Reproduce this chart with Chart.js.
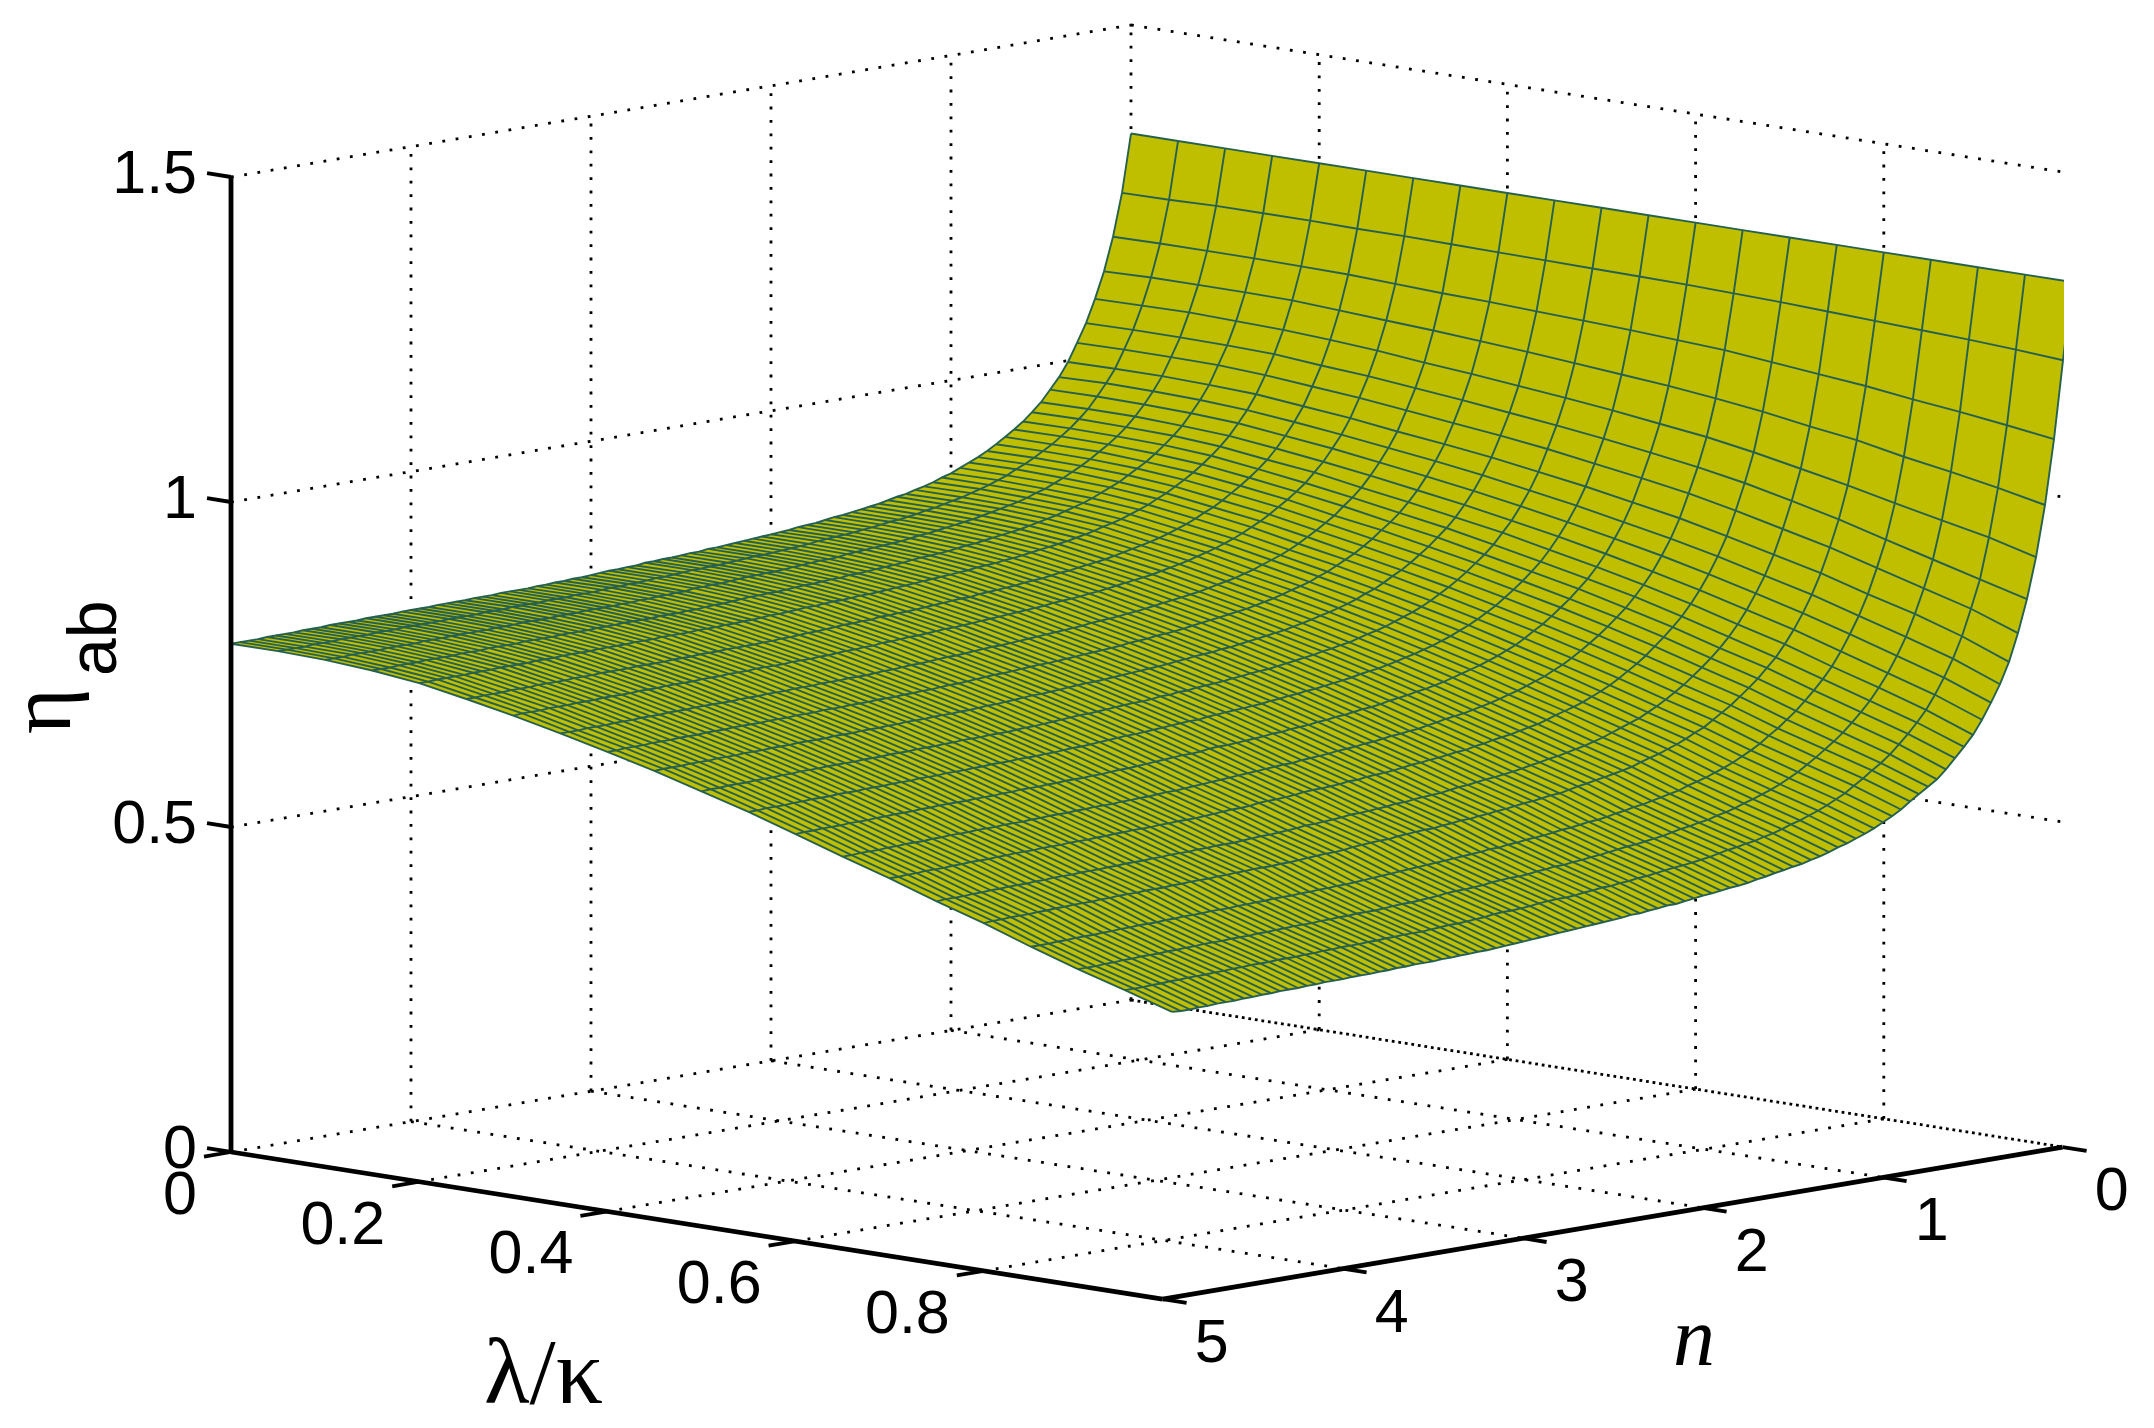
<!DOCTYPE html>
<html>
<head>
<meta charset="utf-8">
<title>eta_ab</title>
<script src="https://cdn.jsdelivr.net/npm/chart.js@4"></script>
<style>
  html, body { margin: 0; padding: 0; background: #fff; }
  canvas { display: block; }
</style>
</head>
<body>
<canvas id="grafico" width="2154" height="1428"></canvas>
<script>
const lambdaValues = [0, 0.05, 0.1, 0.15, 0.2, 0.25, 0.3, 0.35, 0.4, 0.45, 0.5, 0.55, 0.6, 0.65, 0.7, 0.75, 0.8, 0.85, 0.9, 0.95, 1];
const nValues = [
  0, 0.05, 0.1, 0.15, 0.2, 0.25, 0.3, 0.35, 0.4, 0.45, 0.5, 0.55, 0.6, 0.65, 0.7, 0.75, 0.8, 0.85, 0.9, 0.95,
  1, 1.05, 1.1, 1.15, 1.2, 1.25, 1.3, 1.35, 1.4, 1.45, 1.5, 1.55, 1.6, 1.65, 1.7, 1.75, 1.8, 1.85, 1.9, 1.95,
  2, 2.05, 2.1, 2.15, 2.2, 2.25, 2.3, 2.35, 2.4, 2.45, 2.5, 2.55, 2.6, 2.65, 2.7, 2.75, 2.8, 2.85, 2.9, 2.95,
  3, 3.05, 3.1, 3.15, 3.2, 3.25, 3.3, 3.35, 3.4, 3.45, 3.5, 3.55, 3.6, 3.65, 3.7, 3.75, 3.8, 3.85, 3.9, 3.95,
  4, 4.05, 4.1, 4.15, 4.2, 4.25, 4.3, 4.35, 4.4, 4.45, 4.5, 4.55, 4.6, 4.65, 4.7, 4.75, 4.8, 4.85, 4.9, 4.95, 5
];
// eta_ab x 1000, uma linha por n, uma coluna por lambda
const etaRows = [
  [1333,1333,1333,1333,1333,1333,1333,1333,1333,1333,1333,1333,1333,1333,1333,1333,1333,1333,1333,1333,1333],
  [1244,1245,1247,1247,1247,1246,1246,1245,1244,1243,1242,1241,1240,1238,1236,1233,1230,1227,1224,1220,1215],
  [1179,1180,1180,1180,1179,1178,1175,1172,1170,1167,1164,1161,1157,1153,1146,1139,1132,1123,1115,1106,1096],
  [1128,1130,1130,1130,1129,1125,1121,1117,1112,1107,1101,1095,1089,1081,1072,1061,1051,1037,1025,1012,997],
  [1088,1089,1090,1088,1086,1082,1077,1070,1064,1057,1050,1042,1033,1024,1012,998,984,968,953,938,919],
  [1053,1054,1054,1053,1051,1045,1040,1033,1026,1018,1010,1001,991,980,967,951,934,914,895,876,857],
  [1025,1026,1026,1025,1021,1015,1009,1001,993,985,976,965,954,942,927,910,893,873,853,833,807],
  [998,999,999,997,994,987,980,971,963,954,943,932,919,906,890,873,856,835,816,793,765],
  [977,979,978,976,972,965,957,948,939,929,917,905,891,877,861,843,825,804,783,761,733],
  [960,961,960,958,954,946,938,928,918,907,895,882,868,853,836,818,799,778,756,734,707],
  [943,944,944,941,937,929,920,910,899,888,875,862,847,831,814,795,776,754,732,710,683],
  [930,931,930,928,923,914,906,894,883,871,859,844,829,813,795,775,756,733,712,689,662],
  [918,919,918,916,911,902,892,881,869,857,843,828,813,797,778,758,738,716,694,672,646],
  [908,909,908,905,900,891,881,870,857,845,830,815,800,782,764,743,724,701,679,657,631],
  [899,899,899,895,890,881,871,858,847,833,819,803,787,770,751,730,710,687,665,643,616],
  [890,891,890,887,881,872,862,849,836,823,808,792,776,758,739,718,698,674,652,630,603],
  [882,883,882,879,873,863,853,840,827,813,798,782,765,747,727,707,687,663,641,619,594],
  [875,876,875,871,865,855,845,832,818,804,789,772,755,737,717,696,676,652,631,610,585],
  [869,870,868,865,859,849,838,824,811,797,781,764,747,728,708,687,667,643,621,600,576],
  [863,863,862,859,852,842,831,817,804,789,773,756,738,719,699,678,658,633,612,591,566],
  [857,858,856,853,847,836,825,811,797,782,766,749,730,711,691,670,649,625,603,582,558],
  [853,853,852,848,842,831,820,806,792,777,760,743,724,705,684,663,643,618,596,575,551],
  [848,849,847,844,837,826,815,801,786,771,755,737,718,698,678,656,636,611,589,568,544],
  [844,845,843,840,833,822,811,796,782,766,750,732,713,693,672,651,630,605,583,562,538],
  [841,841,840,836,830,818,807,792,778,762,745,727,708,688,667,646,625,600,578,557,533],
  [837,838,837,833,826,815,803,788,774,758,741,723,704,683,663,641,620,595,573,552,528],
  [835,835,834,830,823,812,800,785,770,755,738,719,700,679,659,636,616,591,569,548,524],
  [832,832,831,827,820,809,797,782,767,751,734,716,696,675,654,632,612,587,564,543,519],
  [829,830,828,824,817,806,794,779,764,748,730,712,692,671,650,628,607,582,560,539,515],
  [827,827,826,822,815,803,791,776,761,745,728,709,689,668,647,625,604,579,557,536,512],
  [825,825,824,820,813,801,789,774,759,742,725,706,686,665,644,622,601,576,553,532,508],
  [823,823,822,818,811,799,787,772,757,740,723,704,684,662,641,619,598,573,551,530,506],
  [821,822,820,816,809,797,785,770,755,738,720,702,681,660,639,617,596,570,548,527,503],
  [820,820,818,814,807,795,783,768,753,736,718,699,679,658,637,614,593,568,546,525,501],
  [818,818,817,813,805,794,781,766,751,734,716,697,677,655,634,612,591,565,543,522,498],
  [816,817,815,811,804,792,779,764,749,732,714,695,674,653,632,609,588,563,540,519,496],
  [815,815,813,809,802,790,778,762,747,730,712,693,672,650,629,607,585,560,538,517,493],
  [814,814,812,808,801,789,776,761,745,729,710,691,671,649,628,605,584,558,536,515,491],
  [812,813,811,807,800,788,775,759,744,727,709,690,669,647,626,603,582,557,534,513,490],
  [811,812,810,806,798,786,774,758,743,726,708,688,667,646,624,602,580,555,533,512,488],
  [810,811,809,805,797,785,773,757,741,725,706,687,666,644,623,600,579,553,531,510,486],
  [809,809,808,803,796,784,771,756,740,723,705,685,664,642,621,598,577,552,529,508,485],
  [808,808,807,802,795,783,770,754,739,722,703,684,663,641,620,597,575,550,527,506,483],
  [807,807,805,801,794,782,769,753,737,720,702,682,661,639,618,595,574,548,526,505,481],
  [806,806,804,800,793,780,768,752,736,719,701,681,660,638,616,593,572,547,524,503,479],
  [805,805,804,799,792,780,767,751,735,718,700,680,659,637,615,592,571,546,523,502,479],
  [804,804,803,798,791,779,766,750,734,717,698,679,657,635,614,591,569,544,521,500,477],
  [804,804,802,798,790,778,765,749,733,716,698,678,657,634,613,590,569,543,521,500,476],
  [802,803,801,796,789,777,764,748,732,715,696,677,655,633,611,588,567,541,519,498,474],
  [802,802,800,796,788,776,763,747,731,714,696,676,654,632,611,588,566,541,518,497,474],
  [801,801,799,795,787,775,762,746,730,713,694,674,653,630,609,586,564,539,516,495,472],
  [800,800,799,794,787,774,761,745,729,712,693,674,652,630,608,585,564,538,515,494,471],
  [800,800,798,794,786,774,761,745,729,712,693,673,651,629,607,584,563,537,515,494,470],
  [799,799,798,793,785,773,760,744,728,711,692,672,651,628,607,583,562,536,514,493,469],
  [799,799,797,792,785,773,759,743,727,710,691,671,650,627,606,583,561,535,513,492,468],
  [797,798,796,791,784,771,758,742,726,709,690,670,648,626,604,581,559,534,511,490,467],
  [797,797,795,791,783,771,758,741,725,708,689,669,647,625,603,580,559,533,510,489,466],
  [796,796,795,790,783,770,757,741,725,707,688,668,647,624,602,579,558,532,509,488,465],
  [796,796,794,790,782,770,756,740,724,707,688,668,646,623,602,578,557,531,509,488,464],
  [795,795,794,789,781,769,756,739,723,706,687,667,645,622,601,578,556,530,508,487,463],
  [794,794,792,788,780,768,754,738,722,705,686,666,644,621,599,576,554,529,506,485,462],
  [793,794,792,787,780,767,754,738,721,704,685,665,643,620,598,575,553,528,505,484,461],
  [793,793,791,787,779,767,753,737,721,703,684,664,642,619,598,574,553,527,504,483,460],
  [792,793,791,786,778,766,753,736,720,703,683,663,641,618,597,573,552,526,503,482,459],
  [792,792,790,785,778,765,752,736,719,702,683,663,641,618,596,573,551,525,503,482,458],
  [791,791,790,785,777,765,751,735,719,701,682,662,640,617,595,572,550,524,502,481,457],
  [791,791,789,784,777,764,751,734,718,701,681,661,639,616,594,571,549,524,501,480,457],
  [790,791,789,784,776,764,750,734,718,700,681,661,639,616,594,570,549,523,500,479,456],
  [790,790,788,784,776,763,750,734,717,700,681,660,638,615,594,570,548,523,500,479,456],
  [790,790,788,783,776,763,750,733,717,700,680,660,638,615,593,570,548,522,500,479,455],
  [790,790,788,783,775,763,749,733,717,699,680,660,638,614,593,569,548,522,499,478,455],
  [789,789,788,783,775,763,749,733,716,699,680,659,637,614,592,569,547,521,499,478,454],
  [789,789,787,783,775,762,749,732,716,699,679,659,637,614,592,568,547,521,498,477,454],
  [789,789,787,782,775,762,749,732,716,698,679,659,636,613,592,568,546,521,498,477,454],
  [788,789,787,782,774,762,748,732,715,698,678,658,636,613,591,568,546,520,497,476,453],
  [788,788,786,782,774,761,748,731,715,697,678,658,636,612,591,567,545,520,497,476,453],
  [788,788,786,781,774,761,748,731,715,697,678,657,635,612,590,567,545,519,497,476,452],
  [788,788,786,781,773,761,747,731,714,697,677,657,635,612,590,566,545,519,496,475,452],
  [787,787,786,781,773,760,747,730,714,696,677,657,634,611,589,566,544,518,496,475,451],
  [787,787,785,781,773,760,747,730,714,696,677,656,634,611,589,566,544,518,495,474,451],
  [787,787,785,780,773,760,746,730,713,696,676,656,634,610,589,565,543,518,495,474,451],
  [787,787,785,780,772,760,746,729,713,695,676,656,633,610,588,565,543,517,494,473,450],
  [786,786,784,780,772,759,746,729,713,695,676,655,633,610,588,564,543,517,494,473,450],
  [786,786,784,780,772,759,746,729,712,695,675,655,633,609,588,564,542,517,494,473,450],
  [786,786,784,779,772,759,745,729,712,695,675,655,633,609,587,564,542,516,493,472,449],
  [786,786,784,779,771,759,745,729,712,694,675,654,632,609,587,563,542,516,493,472,449],
  [785,786,784,779,771,758,745,728,712,694,675,654,632,608,587,563,541,515,493,472,448],
  [785,785,783,779,771,758,744,728,711,694,674,654,631,608,586,563,541,515,492,471,448],
  [785,785,783,778,770,758,744,728,711,693,674,653,631,608,586,562,540,515,492,471,448],
  [785,785,783,778,770,757,744,727,711,693,674,653,631,607,585,562,540,514,491,470,447],
  [784,784,782,778,770,757,744,727,710,693,673,653,630,607,585,561,540,514,491,470,447],
  [784,784,782,777,770,757,743,727,710,692,673,652,630,606,585,561,539,513,490,469,446],
  [784,784,782,777,769,757,743,726,710,692,672,652,629,606,584,561,539,513,490,469,446],
  [783,784,782,777,769,756,743,726,709,692,672,652,629,606,584,560,538,512,490,469,445],
  [783,783,781,777,769,756,742,726,709,691,672,651,629,605,583,560,538,512,489,468,445],
  [783,783,781,776,768,756,742,725,709,691,671,651,628,605,583,559,537,512,489,468,445],
  [783,783,781,776,768,755,742,725,708,691,671,650,628,604,583,559,537,511,488,467,444],
  [782,782,781,776,768,755,741,725,708,690,671,650,628,604,582,558,537,511,488,467,444],
  [782,782,780,775,768,755,741,724,708,690,670,650,627,604,582,558,536,510,487,466,443],
  [782,782,780,775,767,754,741,724,707,690,670,649,627,603,581,558,536,510,487,466,443],
  [782,782,780,775,767,754,740,724,707,689,669,649,626,603,581,557,535,510,487,466,444]
];
const zTicks = [0, 0.5, 1, 1.5];
const zTickLabels = ['0', '0.5', '1', '1.5'];
const lambdaTicks = [0, 0.2, 0.4, 0.6, 0.8];
const lambdaTickLabels = ['0', '0.2', '0.4', '0.6', '0.8'];
const nTicks = [0, 1, 2, 3, 4, 5];
const nTickLabels = ['0', '1', '2', '3', '4', '5'];
const lambdaMax = 0.99;
const nMax = 5;
const zMax = 1.5;

// vista 3D ortografica
function px(l, n) { return 231 + 180 * (5 - n) + 941 * l; }
function py(l, n, z) { return 1000 + 30.4 * n + 148.5 * l - 650 * z; }
function p3(l, n, z) { return { x: px(l, n), y: py(l, n, z) }; }

const COR_MALHA = '#26614f';
const COR_SUP = '#bfbf00';

function linha(pts, extra) {
  return Object.assign({
    data: pts, showLine: true, pointRadius: 0, borderColor: '#000', borderWidth: 2.8,
    borderCapStyle: 'butt', clip: false, fill: false, tension: 0
  }, extra);
}
const pontilhado = { borderDash: [2.8, 10.6], order: 30 };
const datasets = [];

// paredes e chao
zTicks.forEach(z => {
  datasets.push(linha([p3(0, nMax, z), p3(0, 0, z)], pontilhado));
  datasets.push(linha([p3(0, 0, z), p3(lambdaMax, 0, z)], z === 0 ? { borderDash: [2.8, 3.8], order: 30 } : pontilhado));
});
nTicks.slice(0, 5).forEach(n => {
  datasets.push(linha([p3(0, n, 0), p3(0, n, zMax)], pontilhado));
  if (n > 0) datasets.push(linha([p3(0, n, 0), p3(lambdaMax, n, 0)], pontilhado));
});
lambdaTicks.slice(1).forEach(l => {
  datasets.push(linha([p3(l, 0, 0), p3(l, 0, zMax)], pontilhado));
  datasets.push(linha([p3(l, 0, 0), p3(l, nMax, 0)], pontilhado));
});

// superficie
const pontoSup = (i, j) => p3(lambdaValues[j], nValues[i], etaRows[i][j] / 1000);
const contorno = [];
const ultima = nValues.length - 1;
const ultimaCol = lambdaValues.length - 1;
lambdaValues.forEach((l, j) => contorno.push(pontoSup(0, j)));
nValues.forEach((n, i) => contorno.push(pontoSup(i, ultimaCol)));
lambdaValues.forEach((l, j) => contorno.push(pontoSup(ultima, ultimaCol - j)));
nValues.forEach((n, i) => contorno.push(pontoSup(ultima - i, 0)));
datasets.push(linha(contorno, { clip: undefined, fill: 'shape', backgroundColor: COR_SUP, borderWidth: 0, borderColor: COR_SUP, order: 20 }));
const malha = { clip: undefined, borderColor: COR_MALHA, borderWidth: 1.9, order: 10 };
nValues.forEach((n, i) => datasets.push(linha(lambdaValues.map((l, j) => pontoSup(i, j)), malha)));
lambdaValues.forEach((l, j) => datasets.push(linha(nValues.map((n, i) => pontoSup(i, j)), malha)));

// eixos e marcas
const eixo = { borderWidth: 4.8, order: 5 };
const marca = { borderWidth: 3.8, order: 5 };
datasets.push(linha([p3(0, nMax, 0), p3(0, nMax, zMax)], eixo));
datasets.push(linha([p3(0, nMax, 0), p3(lambdaMax, nMax, 0)], eixo));
datasets.push(linha([p3(lambdaMax, nMax, 0), p3(lambdaMax, 0, 0)], eixo));
zTicks.forEach(z => datasets.push(linha([p3(0, nMax, z), p3(-0.0255, nMax, z)], marca)));
lambdaTicks.forEach(l => datasets.push(linha([p3(l, nMax, 0), p3(l, nMax + 0.15, 0)], marca)));
nTicks.forEach(n => datasets.push(linha([p3(lambdaMax, n, 0), p3(lambdaMax + 0.0255, n, 0)], marca)));

const textos = {
  id: 'textos',
  afterDraw(chart) {
    const { ctx, scales: { x, y } } = chart;
    const X = v => x.getPixelForValue(v);
    const Y = v => y.getPixelForValue(v);
    const fonteTick = '61px "Liberation Sans"';
    ctx.save();
    ctx.fillStyle = '#000';
    ctx.textBaseline = 'alphabetic';
    ctx.font = fonteTick;
    ctx.textAlign = 'right';
    zTicks.forEach((z, k) => { const p = p3(0, nMax, z); ctx.fillText(zTickLabels[k], X(p.x) - 34, Y(p.y) + 16); });
    lambdaTicks.forEach((l, k) => { const p = p3(l, nMax, 0); ctx.fillText(lambdaTickLabels[k], X(p.x) - 34, Y(p.y) + 62); });
    ctx.textAlign = 'center';
    nTicks.forEach((n, k) => { const p = p3(lambdaMax, n, 0); ctx.fillText(nTickLabels[k], X(p.x) + 49, Y(p.y) + 63); });
    ctx.font = '94px "Liberation Serif"';
    ctx.textAlign = 'left';
    ctx.fillText('λ/κ', 484, 1403);
    ctx.font = 'italic 84px "Liberation Serif"';
    ctx.fillText('n', 1673, 1365);
    ctx.save();
    ctx.translate(70, 734);
    ctx.rotate(-Math.PI / 2);
    ctx.font = '88px "Liberation Serif"';
    ctx.fillText('η', 0, 0);
    ctx.restore();
    ctx.save();
    ctx.translate(116, 676);
    ctx.rotate(-Math.PI / 2);
    ctx.font = '68px "Liberation Sans"';
    ctx.fillText('ab', 0, 0);
    ctx.restore();
    ctx.restore();
  }
};

new Chart(document.getElementById('grafico').getContext('2d'), {
  type: 'scatter',
  data: { datasets },
  options: {
    responsive: false,
    animation: false,
    layout: { padding: { right: 90 } },
    plugins: { legend: { display: false }, tooltip: { enabled: false }, title: { display: false } },
    scales: {
      x: { type: 'linear', min: 0, max: 2064, display: false },
      y: { type: 'linear', min: 0, max: 1428, reverse: true, display: false }
    }
  },
  plugins: [textos]
});
</script>
</body>
</html>
